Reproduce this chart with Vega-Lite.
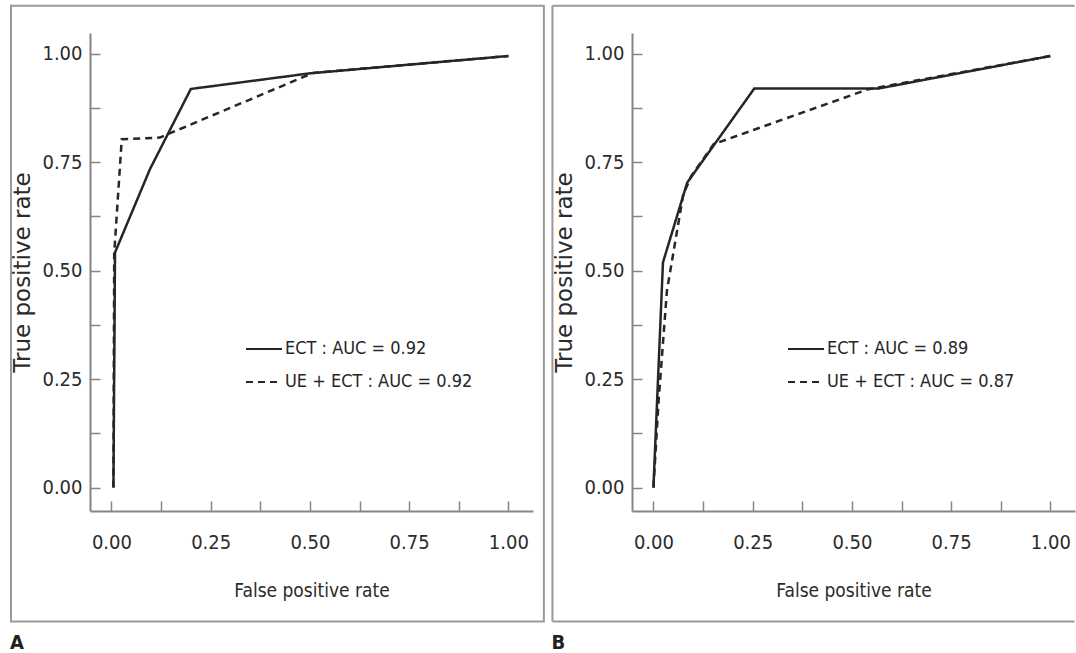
{
  "$schema": "https://vega.github.io/schema/vega-lite/v6.json",
  "background": "white",
  "padding": {"left": 10, "top": 4, "right": 0, "bottom": 0},
  "spacing": 6,
  "config": {
    "view": {"stroke": null},
    "axis": {
      "grid": false,
      "domainColor": "#858585",
      "domainWidth": 2,
      "tickColor": "#858585",
      "tickWidth": 1.5,
      "tickSize": -10,
      "labelFont": "DejaVu Sans Condensed, Liberation Sans Narrow, Roboto, sans-serif",
      "labelFontSize": 20,
      "labelColor": "#2b2b2b",
      "titleColor": "#2b2b2b",
      "titleFontWeight": "normal",
      "labelFlush": false,
      "labelOverlap": false,
      "labelBound": false
    },
    "axisX": {"labelPadding": 31, "titleFont": "DejaVu Sans Condensed, Liberation Sans Narrow, Roboto, sans-serif", "titleFontSize": 19, "titlePadding": 29},
    "axisY": {"labelPadding": 18, "titleFont": "DejaVu Sans", "titleFontSize": 23, "titlePadding": 7},
    "legend": {
      "orient": "none",
      "symbolType": "stroke",
      "symbolSize": 1296,
      "symbolStrokeWidth": 2,
      "symbolStrokeColor": "#262626",
      "labelFont": "DejaVu Sans Condensed, Liberation Sans Narrow, Roboto, sans-serif",
      "labelFontSize": 18,
      "labelColor": "#262626",
      "labelOffset": 2,
      "labelLimit": 400,
      "rowPadding": 5,
      "padding": 0
    },
    "title": {"font": "DejaVu Sans Condensed, Liberation Sans Narrow, Roboto, sans-serif", "fontSize": 20, "fontWeight": "bold", "color": "#222"}
  },
  "datasets": {
    "panelA": [
      {"series": "ECT : AUC = 0.92", "fpr": 0.005, "tpr": 0},
      {"series": "ECT : AUC = 0.92", "fpr": 0.009, "tpr": 0.542},
      {"series": "ECT : AUC = 0.92", "fpr": 0.097, "tpr": 0.734},
      {"series": "ECT : AUC = 0.92", "fpr": 0.2, "tpr": 0.919},
      {"series": "ECT : AUC = 0.92", "fpr": 0.5, "tpr": 0.955},
      {"series": "ECT : AUC = 0.92", "fpr": 1, "tpr": 0.995},
      {"series": "UE + ECT : AUC = 0.92", "fpr": 0.005, "tpr": 0},
      {"series": "UE + ECT : AUC = 0.92", "fpr": 0.007, "tpr": 0.54},
      {"series": "UE + ECT : AUC = 0.92", "fpr": 0.026, "tpr": 0.803},
      {"series": "UE + ECT : AUC = 0.92", "fpr": 0.122, "tpr": 0.807},
      {"series": "UE + ECT : AUC = 0.92", "fpr": 0.508, "tpr": 0.956},
      {"series": "UE + ECT : AUC = 0.92", "fpr": 1, "tpr": 0.995}
    ],
    "panelB": [
      {"series": "ECT : AUC = 0.89", "fpr": 0, "tpr": 0},
      {"series": "ECT : AUC = 0.89", "fpr": 0.024, "tpr": 0.519},
      {"series": "ECT : AUC = 0.89", "fpr": 0.085, "tpr": 0.703},
      {"series": "ECT : AUC = 0.89", "fpr": 0.254, "tpr": 0.92},
      {"series": "ECT : AUC = 0.89", "fpr": 0.567, "tpr": 0.92},
      {"series": "ECT : AUC = 0.89", "fpr": 1, "tpr": 0.995},
      {"series": "UE + ECT : AUC = 0.87", "fpr": 0, "tpr": 0},
      {"series": "UE + ECT : AUC = 0.87", "fpr": 0.013, "tpr": 0.2},
      {"series": "UE + ECT : AUC = 0.87", "fpr": 0.034, "tpr": 0.454},
      {"series": "UE + ECT : AUC = 0.87", "fpr": 0.075, "tpr": 0.675},
      {"series": "UE + ECT : AUC = 0.87", "fpr": 0.095, "tpr": 0.718},
      {"series": "UE + ECT : AUC = 0.87", "fpr": 0.152, "tpr": 0.792},
      {"series": "UE + ECT : AUC = 0.87", "fpr": 0.54, "tpr": 0.918},
      {"series": "UE + ECT : AUC = 0.87", "fpr": 1, "tpr": 0.995}
    ]
  },
  "hconcat": [
    {
      "width": 443,
      "height": 478,
      "title": {"text": "A", "orient": "bottom", "anchor": "start", "frame": "bounds", "offset": 10},
      "layer": [
        {
          "data": {"values": [{}]},
          "mark": {"type": "rect", "fill": "transparent", "stroke": "#9a9a9a", "strokeWidth": 2},
          "encoding": {
            "x": {"datum": -0.253, "type": "quantitative", "scale": {"domain": [-0.054, 1.062], "nice": false, "zero": false},
                  "axis": {"title": "False positive rate", "values": [0, 0.125, 0.25, 0.375, 0.5, 0.625, 0.75, 0.875, 1], "labelExpr": "(datum.value * 4) % 1 == 0 ? format(datum.value, '.2f') : ''"}},
            "x2": {"datum": 1.0894},
            "y": {"datum": 1.1106, "type": "quantitative", "scale": {"domain": [-0.054, 1.048], "nice": false, "zero": false},
                  "axis": {"title": "True positive rate", "values": [0, 0.125, 0.25, 0.375, 0.5, 0.625, 0.75, 0.875, 1], "labelExpr": "(datum.value * 4) % 1 == 0 ? format(datum.value, '.2f') : ''"}},
            "y2": {"datum": -0.3088}
          }
        },
        {
          "data": {"name": "panelA"},
          "mark": {"type": "line", "strokeWidth": 2.5, "color": "#262626"},
          "encoding": {
            "x": {"field": "fpr", "type": "quantitative", "scale": {"domain": [-0.054, 1.062], "nice": false, "zero": false},
                  "axis": {"title": "False positive rate", "values": [0, 0.125, 0.25, 0.375, 0.5, 0.625, 0.75, 0.875, 1], "labelExpr": "(datum.value * 4) % 1 == 0 ? format(datum.value, '.2f') : ''"}},
            "y": {"field": "tpr", "type": "quantitative", "scale": {"domain": [-0.054, 1.048], "nice": false, "zero": false},
                  "axis": {"title": "True positive rate", "values": [0, 0.125, 0.25, 0.375, 0.5, 0.625, 0.75, 0.875, 1], "labelExpr": "(datum.value * 4) % 1 == 0 ? format(datum.value, '.2f') : ''"}},
            "strokeDash": {"field": "series", "type": "nominal", "scale": {"range": [[1, 0], [7, 5]]},
                           "legend": {"title": null, "legendX": 155, "legendY": 297}}
          }
        }
      ]
    },
    {
      "width": 443,
      "height": 478,
      "title": {"text": "B", "orient": "bottom", "anchor": "start", "frame": "bounds", "offset": 10},
      "layer": [
        {
          "data": {"values": [{}]},
          "mark": {"type": "rule", "stroke": "#9a9a9a", "strokeWidth": 2},
          "encoding": {
            "x": {"datum": -0.2544, "type": "quantitative", "scale": {"domain": [-0.054, 1.062], "nice": false, "zero": false},
                  "axis": {"title": "False positive rate", "values": [0, 0.125, 0.25, 0.375, 0.5, 0.625, 0.75, 0.875, 1], "labelExpr": "(datum.value * 4) % 1 == 0 ? format(datum.value, '.2f') : ''"}},
            "y": {"datum": -0.3088, "type": "quantitative", "scale": {"domain": [-0.054, 1.048], "nice": false, "zero": false},
                  "axis": {"title": "True positive rate", "values": [0, 0.125, 0.25, 0.375, 0.5, 0.625, 0.75, 0.875, 1], "labelExpr": "(datum.value * 4) % 1 == 0 ? format(datum.value, '.2f') : ''"}},
            "y2": {"datum": 1.1106}
          }
        },
        {
          "data": {"values": [{}]},
          "mark": {"type": "rule", "stroke": "#9a9a9a", "strokeWidth": 2},
          "encoding": {
            "x": {"datum": -0.2544, "type": "quantitative"},
            "x2": {"datum": 1.061},
            "y": {"datum": 1.1106, "type": "quantitative"}
          }
        },
        {
          "data": {"values": [{}]},
          "mark": {"type": "rule", "stroke": "#9a9a9a", "strokeWidth": 2},
          "encoding": {
            "x": {"datum": -0.2544, "type": "quantitative"},
            "x2": {"datum": 1.061},
            "y": {"datum": -0.3088, "type": "quantitative"}
          }
        },
        {
          "data": {"name": "panelB"},
          "mark": {"type": "line", "strokeWidth": 2.5, "color": "#262626"},
          "encoding": {
            "x": {"field": "fpr", "type": "quantitative", "scale": {"domain": [-0.054, 1.062], "nice": false, "zero": false},
                  "axis": {"title": "False positive rate", "values": [0, 0.125, 0.25, 0.375, 0.5, 0.625, 0.75, 0.875, 1], "labelExpr": "(datum.value * 4) % 1 == 0 ? format(datum.value, '.2f') : ''"}},
            "y": {"field": "tpr", "type": "quantitative", "scale": {"domain": [-0.054, 1.048], "nice": false, "zero": false},
                  "axis": {"title": "True positive rate", "values": [0, 0.125, 0.25, 0.375, 0.5, 0.625, 0.75, 0.875, 1], "labelExpr": "(datum.value * 4) % 1 == 0 ? format(datum.value, '.2f') : ''"}},
            "strokeDash": {"field": "series", "type": "nominal", "scale": {"range": [[1, 0], [7, 5]]},
                           "legend": {"title": null, "legendX": 155, "legendY": 297}}
          }
        }
      ]
    }
  ],
  "resolve": {"scale": {"strokeDash": "independent"}, "legend": {"strokeDash": "independent"}}
}
